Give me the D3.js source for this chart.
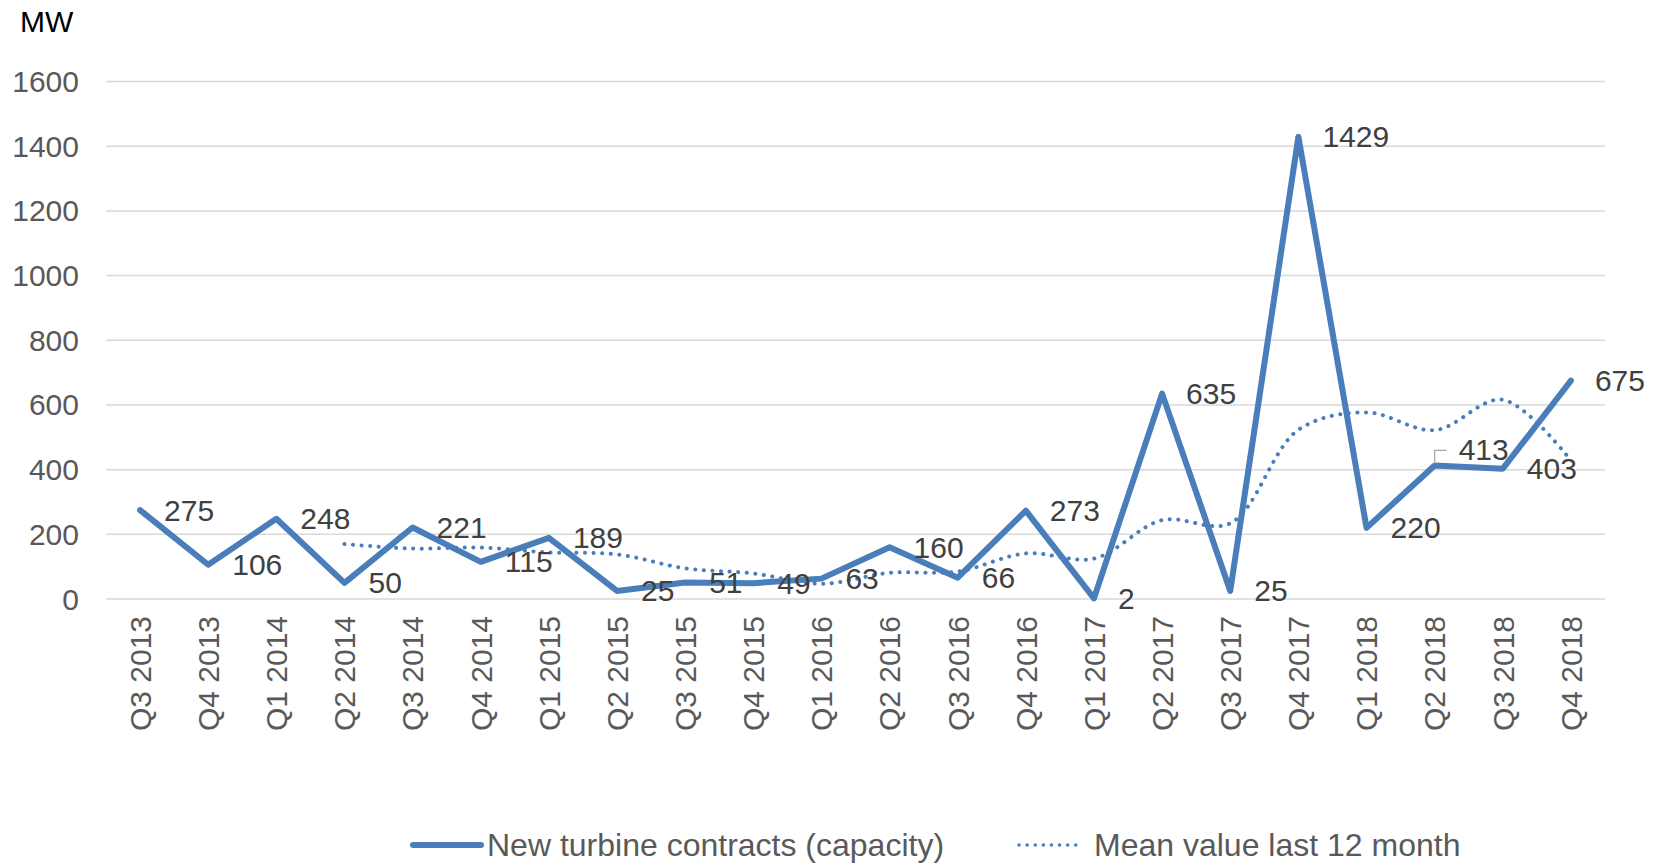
<!DOCTYPE html>
<html>
<head>
<meta charset="utf-8">
<script src="https://d3js.org/d3.v7.min.js"></script>
<style>
  body { margin: 0; background: #fff; }
  text { font-family: "Liberation Sans", Arial, sans-serif; }
</style>
</head>
<body>
<svg id="chart" width="1660" height="865"></svg>
<script>
var quarters = ["Q3 2013","Q4 2013","Q1 2014","Q2 2014","Q3 2014","Q4 2014","Q1 2015","Q2 2015",
  "Q3 2015","Q4 2015","Q1 2016","Q2 2016","Q3 2016","Q4 2016","Q1 2017","Q2 2017","Q3 2017",
  "Q4 2017","Q1 2018","Q2 2018","Q3 2018","Q4 2018"];
var contracts = [275,106,248,50,221,115,189,25,51,49,63,160,66,273,2,635,25,1429,220,413,403,675];
// mean of last 12 months, starts at Q2 2014
var meanStart = 3;
var meanValues = [170,156,159,144,138,95,79,47,81,85,141,125,244,234,523,577,522,616,428];
var yTicks = [0,200,400,600,800,1000,1200,1400,1600];
var seriesNames = ["New turbine contracts (capacity)", "Mean value last 12 month"];

var svg = d3.select("#chart"),
    margin = {top: 81.5, right: 55, bottom: 266, left: 106},
    width = +svg.attr("width") - margin.left - margin.right,
    height = +svg.attr("height") - margin.top - margin.bottom;

var blue = "#4a7ebb", tickGrey = "#595959", labelGrey = "#404040";
var fs = "30px";

var x = d3.scaleBand().domain(quarters).range([0, width]),
    y = d3.scaleLinear().domain([0, 1600]).range([height, 0]);

var g = svg.append("g")
	.attr("transform", "translate(" + margin.left + "," + margin.top + ")");

function cx(d) { return x(d) + x.bandwidth() / 2; }

// grid
g.append("g")
	.selectAll("line")
	.data(yTicks)
	.enter().append("line")
	.attr("x1", 0).attr("x2", width)
	.attr("y1", function(d) { return y(d); })
	.attr("y2", function(d) { return y(d); })
	.attr("stroke", "#d9d9d9")
	.attr("stroke-width", 1.5);

// y axis labels
g.append("g")
	.selectAll("text")
	.data(yTicks)
	.enter().append("text")
	.attr("x", -27)
	.attr("y", function(d) { return y(d); })
	.attr("dy", "0.35em")
	.attr("text-anchor", "end")
	.attr("fill", tickGrey)
	.style("font-size", fs)
	.text(function(d) { return d; });

svg.append("text")
	.attr("x", 20).attr("y", 32)
	.attr("fill", "#000")
	.style("font-size", fs)
	.text("MW");

// x axis labels
g.append("g")
	.selectAll("text")
	.data(quarters)
	.enter().append("text")
	.attr("transform", function(d) { return "translate(" + cx(d) + "," + (height + 17) + ") rotate(-90)"; })
	.attr("dy", "0.36em")
	.attr("text-anchor", "end")
	.attr("fill", tickGrey)
	.style("font-size", fs)
	.text(function(d) { return d; });

// mean line (dotted, smoothed)
var meanData = meanValues.map(function(v, i) { return {q: quarters[meanStart + i], v: v}; });
var meanLine = d3.line()
	.x(function(d) { return cx(d.q); })
	.y(function(d) { return y(d.v); })
	.curve(d3.curveCatmullRom.alpha(0.5));

g.append("path")
	.datum(meanData)
	.attr("fill", "none")
	.attr("stroke", blue)
	.attr("stroke-width", 4)
	.attr("stroke-linecap", "round")
	.attr("stroke-dasharray", "0.1 8.5")
	.attr("d", meanLine);

// main line
var mainData = contracts.map(function(v, i) { return {q: quarters[i], v: v}; });
var line = d3.line()
	.x(function(d) { return cx(d.q); })
	.y(function(d) { return y(d.v); });

g.append("path")
	.datum(mainData)
	.attr("fill", "none")
	.attr("stroke", blue)
	.attr("stroke-width", 6)
	.attr("stroke-linejoin", "round")
	.attr("stroke-linecap", "round")
	.attr("d", line);

// data labels, right of points
var liftedLabel = "Q2 2018";
g.append("g")
	.selectAll("text")
	.data(mainData)
	.enter().append("text")
	.attr("x", function(d) { return cx(d.q) + 24; })
	.attr("y", function(d) { return y(d.v) + (d.q === liftedLabel ? -16 : 0); })
	.attr("dy", "0.35em")
	.attr("fill", labelGrey)
	.style("font-size", fs)
	.text(function(d) { return d.v; });

// leader line for the lifted label
var lp = mainData.filter(function(d) { return d.q === liftedLabel; })[0];
g.append("path")
	.attr("d", "M" + cx(lp.q) + "," + (y(lp.v) - 2) + "V" + (y(lp.v) - 15) + "h12")
	.attr("fill", "none")
	.attr("stroke", "#a6a6a6")
	.attr("stroke-width", 1.2);

// legend
var legFs = "32px";
var leg = svg.append("g").attr("transform", "translate(0,845)");
leg.append("line")
	.attr("x1", 413).attr("x2", 481)
	.attr("stroke", blue).attr("stroke-width", 6).attr("stroke-linecap", "round");
leg.append("text")
	.attr("x", 487).attr("dy", "0.35em")
	.attr("fill", tickGrey).style("font-size", legFs)
	.text(seriesNames[0]);
leg.append("line")
	.attr("x1", 1019).attr("x2", 1081)
	.attr("stroke", blue).attr("stroke-width", 3.5)
	.attr("stroke-linecap", "round").attr("stroke-dasharray", "0.1 8");
leg.append("text")
	.attr("x", 1094).attr("dy", "0.35em")
	.attr("fill", tickGrey).style("font-size", legFs)
	.text(seriesNames[1]);
</script>
</body>
</html>
